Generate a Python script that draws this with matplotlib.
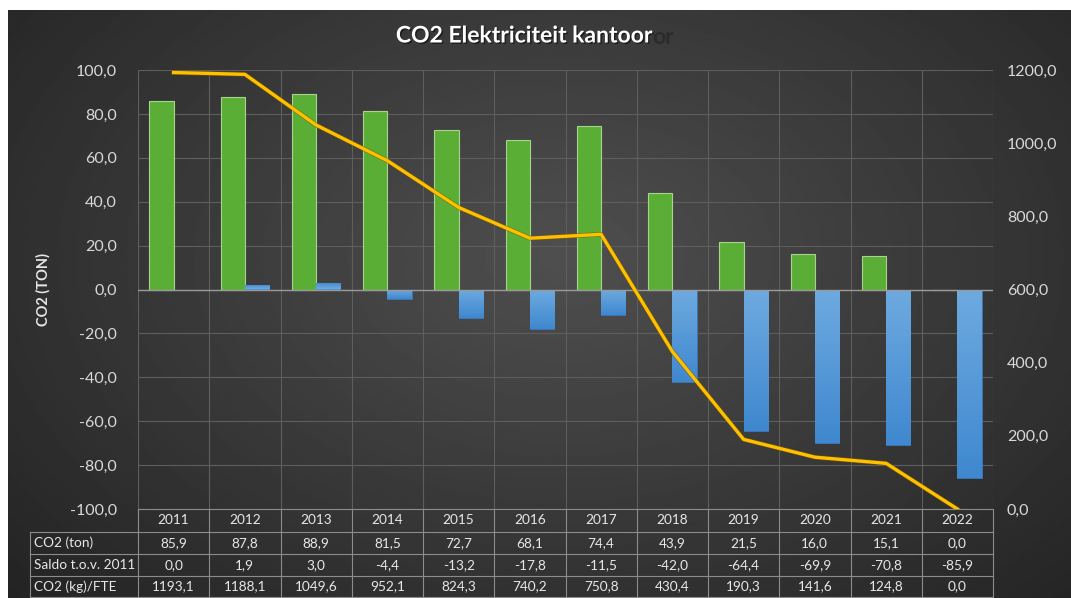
import matplotlib.pyplot as plt
import matplotlib.patheffects as pe
import numpy as np
from matplotlib.colors import LinearSegmentedColormap
from matplotlib.transforms import blended_transform_factory

years = ['2011', '2012', '2013', '2014', '2015', '2016',
         '2017', '2018', '2019', '2020', '2021', '2022']
co2_ton = [85.9, 87.8, 88.9, 81.5, 72.7, 68.1, 74.4, 43.9, 21.5, 16.0, 15.1, 0.0]
saldo = [0.0, 1.9, 3.0, -4.4, -13.2, -17.8, -11.5, -42.0, -64.4, -69.9, -70.8, -85.9]
co2_fte = [1193.1, 1188.1, 1049.6, 952.1, 824.3, 740.2, 750.8, 430.4, 190.3, 141.6, 124.8, 0.0]
row_labels = ['CO2 (ton)', 'Saldo t.o.v. 2011', 'CO2 (kg)/FTE']


def nl(v):
    return f'{v:.1f}'.replace('.', ',')


plt.rcParams['font.family'] = ['Lato', 'DejaVu Sans']
W, H = 1071, 598
fig = plt.figure(figsize=(W / 100, H / 100), dpi=100)
fig.patch.set_facecolor('white')

# dark radial background
bg = fig.add_axes([8 / W, 0, 1 - 8 / W, 1 - 10 / H], zorder=-10)
yy, xx = np.mgrid[0:1:300j, 0:1:500j]
r = np.sqrt(((xx - 0.52) / 0.62) ** 2 + ((yy - 0.42) / 0.75) ** 2)
shade = np.clip(0.31 - 0.15 * r, 0.1, 0.32)
bg.imshow(shade, cmap='gray', vmin=0, vmax=1, aspect='auto',
          extent=[0, 1, 0, 1], origin='upper')
bg.axis('off')

left, right, top, bottom = 138, 993, 70, 509
ax = fig.add_axes([left / W, 1 - bottom / H, (right - left) / W, (bottom - top) / H])
ax.set_facecolor('none')
x = np.arange(len(years))
w = 0.34

ax.bar(x - w / 2, co2_ton, w, color='#5aae36', edgecolor='#a8d48e', lw=0.8, zorder=3)
blue = ax.bar(x + w / 2, saldo, w, color='#4a90d6', edgecolor='#3a78b8', lw=0.6, zorder=3)
blue_cmap = LinearSegmentedColormap.from_list('b', ['#6eaae0', '#3f88cf'])
grad = np.linspace(0, 1, 100).reshape(-1, 1)
for b in blue:
    bx, by = b.get_x(), b.get_y()
    bw, bh = b.get_width(), b.get_height()
    if bh == 0:
        continue
    im = ax.imshow(grad, cmap=blue_cmap, aspect='auto',
                   extent=[bx, bx + bw, by + bh, by], zorder=3.5, origin='upper')
    im.set_clip_path(b)

ax.set_xlim(-0.5, len(years) - 0.5)
ax.set_ylim(-100, 100)
ax.set_yticks(np.arange(-100, 101, 20))
ax.set_yticklabels([nl(v) for v in np.arange(-100, 101, 20)])
ax.set_xticks([])
ax.grid(axis='y', color='#5e5e5e', lw=0.8, zorder=0)
for xv in np.arange(-0.5, len(years), 1.0):
    ax.axvline(xv, color='#5e5e5e', lw=0.8, zorder=0)
ax.axhline(0, color='#9a9a9a', lw=1.0, zorder=4)
for s in ax.spines.values():
    s.set_visible(False)
ax.tick_params(axis='y', length=0, pad=15, labelsize=11.5, labelcolor='#d9d9d9')
ax.set_ylabel('CO2 (TON)', color='#e6e6e6', fontsize=10.5, fontweight='bold', labelpad=14)

ax2 = ax.twinx()
ax2.set_ylim(0, 1200)
ax2.set_yticks(np.arange(0, 1201, 200))
ax2.set_yticklabels([nl(v) for v in np.arange(0, 1201, 200)])
for s in ax2.spines.values():
    s.set_visible(False)
ax2.tick_params(axis='y', length=0, pad=10, labelsize=11.5, labelcolor='#d9d9d9')
ax2.plot(x, co2_fte, color='#ffc000', lw=2.4, zorder=5, solid_joinstyle='round',
         path_effects=[pe.Stroke(linewidth=3.4, foreground='#7a5a00', alpha=0.6), pe.Normal()])

# data table below the plot
tr = blended_transform_factory(ax.transData, fig.transFigure)
row_h = [509, 532, 554, 576, 597]
ys = [1 - v / H for v in row_h]
xl = -0.5 - (left - 30) / ((right - left) / 12)
lc = '#8c8c8c'
for i, yv in enumerate(ys):
    x0 = -0.5 if i == 0 else xl
    ax.plot([x0, 11.5], [yv, yv], transform=tr, color=lc, lw=0.8, clip_on=False)
for xv in np.arange(-0.5, 12, 1.0):
    ax.plot([xv, xv], [ys[0], ys[-1]], transform=tr, color=lc, lw=0.8, clip_on=False)
ax.plot([xl, xl], [ys[1], ys[-1]], transform=tr, color=lc, lw=0.8, clip_on=False)

tc = '#e8e8e8'
for i, yr in enumerate(years):
    ax.text(i, (ys[0] + ys[1]) / 2, yr, transform=tr, ha='center', va='center',
            color=tc, fontsize=9.8)
rows = [co2_ton, saldo, co2_fte]
for j, (lab, vals) in enumerate(zip(row_labels, rows)):
    yc = (ys[j + 1] + ys[j + 2]) / 2
    ax.text(xl + 0.05, yc, lab, transform=tr, ha='left', va='center', color=tc, fontsize=9.8)
    for i, v in enumerate(vals):
        ax.text(i, yc, nl(v), transform=tr, ha='center', va='center', color=tc, fontsize=9.8)

# title with faint echo
t = fig.text(524 / W, 1 - 36 / H, 'CO2 Elektriciteit kantoor', ha='center', va='center',
             color='white', fontsize=16.5, fontweight='bold',
             path_effects=[pe.withSimplePatchShadow(offset=(1, -1), shadow_rgbFace='black', alpha=0.5)])
fig.canvas.draw()
ext = t.get_window_extent()
fig.text(ext.x1 / W, 1 - 38 / H, 'or', ha='left', va='center', color='#262626',
         fontsize=16.5, fontweight='bold', alpha=0.75)

fig.savefig('out.png', dpi=100)
